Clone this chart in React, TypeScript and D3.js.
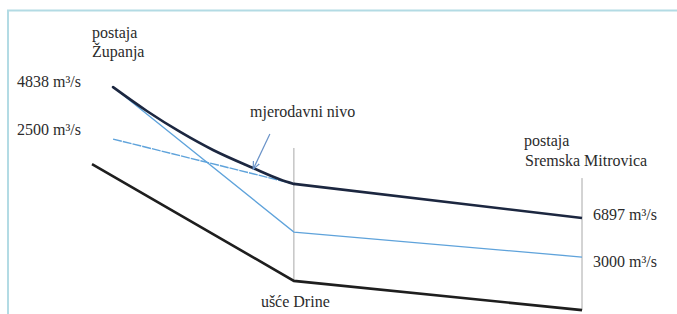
import React, { useEffect, useState } from "react";
import * as d3 from "d3";

// river chainage (relative, 0 = left end of the bed line, 100 = Sremska Mitrovica)
const DRINA_KM = 41.2;
const ZUPANJA_KM = 4.3;
const MITROVICA_KM = 100;

// relative water levels (schematic units)
const mjerodavniKm = [ZUPANJA_KM, 11.2, 18.0, 24.7, 32.9, 38.4, DRINA_KM];
const mjerodavniLevel = [100.4, 89.7, 80.3, 72.2, 64.1, 59.0, 57.0];
const mjerodavniDownKm = [DRINA_KM, MITROVICA_KM];
const mjerodavniDownLevel = [57.0, 41.7];

const q3000Km = [ZUPANJA_KM, DRINA_KM, MITROVICA_KM];
const q3000Level = [100.4, 35.4, 24.2];

const q2500Km = [ZUPANJA_KM, DRINA_KM];
const q2500Level = [77.1, 57.0];

const bedKm = [0, DRINA_KM, MITROVICA_KM];
const bedLevel = [65.9, 13.5, 0.4];

// vertical station markers [km, top, bottom]
const markers: [number, number, number][] = [
  [DRINA_KM, 73.1, 13.5],
  [MITROVICA_KM, 59.6, 0.4],
];

const qLeft = ["4838 m³/s", "2500 m³/s"];
const qRight = ["6897 m³/s", "3000 m³/s"];

type P = { km: number; v: number };
const zip = (km: number[], v: number[]): P[] => km.map((k, i) => ({ km: k, v: v[i] }));

const width = 677,
  height = 314;

const x = d3.scaleLinear().domain([0, 100]).range([92, 582]);
const y = d3.scaleLinear().domain([0, 100]).range([311, 88]);

const straight = d3
  .line<P>()
  .x((d) => x(d.km))
  .y((d) => y(d.v));
const curved = d3
  .line<P>()
  .x((d) => x(d.km))
  .y((d) => y(d.v))
  .curve(d3.curveMonotoneX);

const serif = `"Liberation Serif", "Times New Roman", "DejaVu Serif", serif`;

const Label = ({ x, y, children }: { x: number; y: number; children: string }) => (
  <text x={x} y={y} fontSize={16} fill="#2b2b2b" style={{ fontFamily: serif }}>
    {children}
  </text>
);

const App: React.FC = () => {
  const arrowColor = "#6a93c8";
  const [tick, setTick] = useState(0);

  // make sure the serif face is picked up once it is available
  useEffect(() => {
    const fonts = (document as any).fonts;
    if (fonts && fonts.load) {
      fonts.load('16px "Liberation Serif"').then(() => setTick((t) => t + 1));
    }
    const id = setTimeout(() => setTick((t) => t + 1), 200);
    return () => clearTimeout(id);
  }, []);

  return (
    <svg
      width={width}
      height={height}
      style={{ position: "absolute", left: 0, top: 0, fontFamily: serif }}
    >
      <defs>
        <marker
          id="arr"
          viewBox="0 0 10 10"
          refX={9}
          refY={5}
          markerWidth={7}
          markerHeight={7}
          orient="auto"
        >
          <path d="M0,1 L9,5 L0,9" fill="none" stroke={arrowColor} strokeWidth={1.4} />
        </marker>
      </defs>

      {/* frame */}
      <path
        d={`M8,${height} L8,10.5 L${width},10.5`}
        fill="none"
        stroke="#b3dbe4"
        strokeWidth={2}
      />

      {/* station markers */}
      {markers.map((m, i) => (
        <line
          key={i}
          x1={x(m[0])}
          x2={x(m[0])}
          y1={y(m[1])}
          y2={y(m[2])}
          stroke="#a8a8a8"
          strokeWidth={1}
        />
      ))}

      {/* bed */}
      <path d={straight(zip(bedKm, bedLevel))!} fill="none" stroke="#1e1e1e" strokeWidth={2.6} />

      {/* Q 3000 */}
      <path
        d={straight(zip(q3000Km, q3000Level))!}
        fill="none"
        stroke="#5fa3db"
        strokeWidth={1.3}
      />

      {/* Q 2500 */}
      <path
        d={straight(zip(q2500Km, q2500Level))!}
        fill="none"
        stroke="#5fa3db"
        strokeWidth={1.4}
        strokeDasharray="9,1"
      />

      {/* mjerodavni nivo */}
      <path
        d={curved(zip(mjerodavniKm, mjerodavniLevel))!}
        fill="none"
        stroke="#1c2740"
        strokeWidth={2.6}
        strokeLinecap="round"
      />
      <path
        d={straight(zip(mjerodavniDownKm, mjerodavniDownLevel))!}
        fill="none"
        stroke="#1c2740"
        strokeWidth={2.6}
      />

      {/* pointer arrow */}
      <line
        x1={x(36.3)}
        y1={y(79.4)}
        x2={x(32.9)}
        y2={y(63.6)}
        stroke={arrowColor}
        strokeWidth={1.2}
        markerEnd="url(#arr)"
      />

      <g key={tick}>
        <Label x={92} y={38}>postaja</Label>
        <Label x={92} y={57}>Županja</Label>
        <Label x={17} y={y(mjerodavniLevel[0])}>{qLeft[0]}</Label>
        <Label x={17} y={y(q2500Level[0]) - 4}>{qLeft[1]}</Label>
        <Label x={250} y={117}>mjerodavni nivo</Label>
        <Label x={524} y={146}>postaja</Label>
        <Label x={525} y={166}>Sremska Mitrovica</Label>
        <Label x={x(MITROVICA_KM) + 11} y={y(mjerodavniDownLevel[1]) + 2}>{qRight[0]}</Label>
        <Label x={x(MITROVICA_KM) + 11} y={y(q3000Level[2]) + 10}>{qRight[1]}</Label>
        <Label x={x(DRINA_KM) - 33} y={307}>ušće Drine</Label>
      </g>
    </svg>
  );
};

export default App;
